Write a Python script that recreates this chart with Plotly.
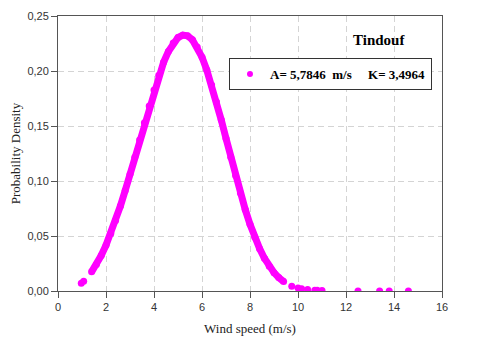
import plotly.graph_objects as go

# Weibull fit, Tindouf: wind speed (m/s) vs probability density
speed_low = [0.97, 1.07]
dens_low = [0.0070, 0.0089]

speed_curve = [1.4, 1.6, 1.8, 2.0, 2.2, 2.4, 2.6, 2.8, 3.0, 3.2, 3.4, 3.6, 3.8,
               4.0, 4.2, 4.4, 4.6, 4.8, 5.0, 5.2, 5.4, 5.6, 5.8, 6.0, 6.2, 6.4,
               6.6, 6.8, 7.0, 7.2, 7.4, 7.6, 7.8, 8.0, 8.2, 8.4, 8.6, 8.8, 9.0,
               9.2, 9.4]
dens_curve = [0.0174, 0.0242, 0.0322, 0.0416, 0.0523, 0.0642, 0.0772, 0.0913,
              0.1061, 0.1215, 0.1372, 0.1529, 0.1682, 0.1827, 0.1961, 0.2079,
              0.2178, 0.2254, 0.2304, 0.2326, 0.2319, 0.2283, 0.2218, 0.2126,
              0.2009, 0.1873, 0.1720, 0.1557, 0.1387, 0.1216, 0.1049, 0.0890,
              0.0742, 0.0607, 0.0488, 0.0385, 0.0298, 0.0226, 0.0167, 0.0122,
              0.0086]

speed_tail = [9.74, 10.0, 10.15, 10.4, 10.7, 10.8, 11.0, 12.5, 13.4, 13.8, 14.6]
dens_tail = [0.0044, 0.0027, 0.0021, 0.0013, 0.0007, 0.0006, 0.0004,
             0.0, 0.0, 0.0, 0.0]

x_ticks = [0, 2, 4, 6, 8, 10, 12, 14, 16]
y_ticks = [0.0, 0.05, 0.10, 0.15, 0.20, 0.25]

station = "Tindouf"
legend_label = "A=\u00a05,7846\u00a0\u00a0m/s\u00a0\u00a0\u00a0\u00a0\u00a0K=\u00a03,4964"

MAGENTA = "#ff00ff"
serif = "Liberation Serif, Times New Roman, serif"
sans = "Liberation Sans, Arial, sans-serif"

fig = go.Figure()

# thick line under the dense part so it reads as one band of points
fig.add_trace(go.Scatter(
    x=speed_curve, y=dens_curve, mode="lines",
    line=dict(color=MAGENTA, width=7),
    showlegend=False, hoverinfo="skip"
))

all_x = speed_low + speed_curve + speed_tail
all_y = dens_low + dens_curve + dens_tail
fig.add_trace(go.Scatter(
    x=all_x, y=all_y, mode="markers",
    marker=dict(color=MAGENTA, size=7),
    showlegend=False
))

# legend entry only
fig.add_trace(go.Scatter(
    x=[None], y=[None], mode="markers",
    marker=dict(color=MAGENTA, size=6),
    name=legend_label
))

fig.add_annotation(
    text="<b>" + station + "</b>", x=0.836, y=0.913, xref="paper", yref="paper",
    xanchor="center", yanchor="middle",
    showarrow=False, font=dict(family=serif, size=15, color="#000000")
)

axis_common = dict(
    showline=True, linecolor="#555555", linewidth=1, mirror=True,
    ticks="outside", ticklen=6, tickcolor="#555555",
    showgrid=True, gridcolor="#d4d4d4", gridwidth=1, griddash="6px,4px",
    zeroline=False, automargin=False,
    tickfont=dict(family=sans, size=11, color="#333333"),
)

fig.update_xaxes(
    range=[0, 16], tickvals=x_ticks,
    title=dict(text="Wind speed (m/s)", font=dict(family=serif, size=13, color="#222222"),
               standoff=11),
    **axis_common
)
fig.update_yaxes(
    range=[0, 0.25], tickvals=y_ticks, tickformat=".2f",
    title=dict(text="Probability Density", font=dict(family=serif, size=13, color="#222222"),
               standoff=10),
    **axis_common
)

# the page body adds an 8px margin, so the figure is 8px smaller and shifted
fig.update_layout(
    width=472, height=333,
    margin=dict(l=50, r=38, t=8, b=50),
    paper_bgcolor="white", plot_bgcolor="white",
    separators=", ",
    legend=dict(
        x=0.4453, y=0.847, xanchor="left", yanchor="top",
        bgcolor="white", bordercolor="#333333", borderwidth=1,
        font=dict(family=serif, size=13, color="#000000", weight="bold"),
    ),
)

fig.write_html("out.html")
